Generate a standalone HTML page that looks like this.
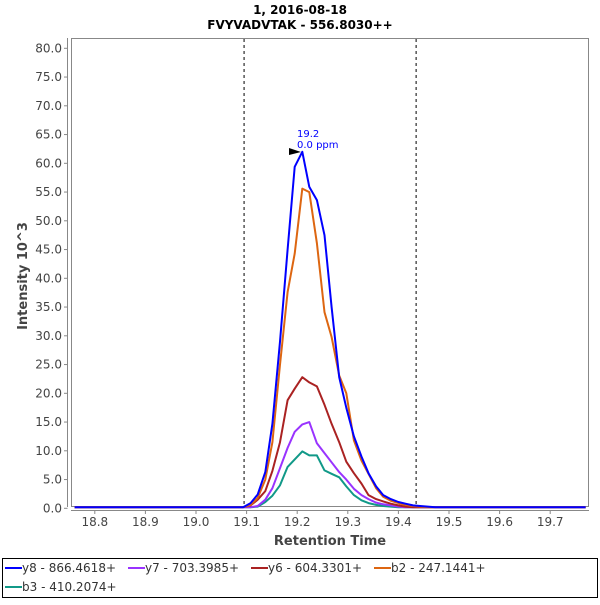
<!DOCTYPE html>
<html><head><meta charset="utf-8"><style>
body{margin:0;background:#fff;font-family:"Liberation Sans","DejaVu Sans",sans-serif}
svg text{font-family:"DejaVu Sans","Liberation Sans",sans-serif}
</style></head><body>
<svg id="chart" width="600" height="600" xmlns="http://www.w3.org/2000/svg">
<rect width="600" height="600" fill="#fff"/>
<text x="300" y="14" text-anchor="middle" font-size="12" font-weight="bold">1, 2016-08-18</text>
<text x="300" y="29" text-anchor="middle" font-size="12" font-weight="bold">FVYVADVTAK - 556.8030++</text>
<rect x="71.5" y="38.5" width="517" height="468" fill="#fff" stroke="#888"/>
<g id="yaxis"></g>
<g id="xaxis"></g>
<g id="series"></g>
<text transform="translate(27,276) rotate(-90)" text-anchor="middle" font-size="13" font-weight="bold" fill="#444">Intensity 10^3</text>
<text x="330" y="545" text-anchor="middle" font-size="13" font-weight="bold" fill="#444">Retention Time</text>
<polygon points="289,148 301,152 289,155" fill="#000"/>
<text x="297" y="137" font-size="10" fill="#0000ff">19.2</text>
<text x="297" y="148" font-size="10" fill="#0000ff">0.0 ppm</text>
<g>
<rect x="2.5" y="558.5" width="595" height="39" fill="#fff" stroke="#000"/>
<g><line x1="5" y1="568" x2="22" y2="568" stroke="#0000ff" stroke-width="2"/><text x="22" y="572" font-size="12" fill="#333">y8 - 866.4618+</text></g>
<g><line x1="128" y1="568" x2="145" y2="568" stroke="#9933ff" stroke-width="2"/><text x="145" y="572" font-size="12" fill="#333">y7 - 703.3985+</text></g>
<g><line x1="251" y1="568" x2="268" y2="568" stroke="#aa2222" stroke-width="2"/><text x="268" y="572" font-size="12" fill="#333">y6 - 604.3301+</text></g>
<g><line x1="374" y1="568" x2="391" y2="568" stroke="#dd6611" stroke-width="2"/><text x="391" y="572" font-size="12" fill="#333">b2 - 247.1441+</text></g>
<g><line x1="5" y1="587" x2="22" y2="587" stroke="#119988" stroke-width="2"/><text x="22" y="591" font-size="12" fill="#333">b3 - 410.2074+</text></g>
</g>
</svg>
<script>
const times=[18.76,19.093,19.108,19.122,19.137,19.151,19.166,19.181,19.195,19.210,19.224,19.239,19.254,19.268,19.283,19.297,19.312,19.327,19.341,19.356,19.370,19.385,19.400,19.414,19.429,19.443,19.458,19.473,19.77];
const y8=[0.2,0.2,0.9,2.4,6.3,14.7,29,45,59.4,62.0,55.9,53.6,47.5,35,22.8,17.5,12.5,9,6.1,3.8,2.3,1.6,1.1,0.8,0.5,0.4,0.3,0.2,0.2];
const b2=[0.2,0.2,0.6,1.8,5,11.5,25,37.6,44.3,55.6,55.0,46.1,34.1,29.8,23.1,20,11.8,8.3,6,3.5,2,1.3,0.9,0.6,0.4,0.3,0.2,0.2,0.2];
const y6=[0.2,0.2,0.5,1.5,3,6.5,11.5,18.8,20.8,22.8,21.9,21.2,18,14.7,11.5,8.1,6.1,4.3,2.3,1.6,1.2,0.8,0.5,0.3,0.2,0.2,0.2,0.2,0.2];
const y7=[0.2,0.2,0.2,0.4,1.5,3.5,7,10.5,13.3,14.6,15.0,11.3,9.6,8,6.3,5,3.4,2.3,1.6,1.0,0.7,0.5,0.3,0.2,0.2,0.2,0.2,0.2,0.2];
const b3=[0.2,0.2,0.2,0.3,1.1,2.2,4.0,7.2,8.5,9.9,9.2,9.2,6.6,6.0,5.4,3.8,2.3,1.4,0.9,0.6,0.4,0.3,0.2,0.2,0.2,0.2,0.2,0.2,0.2];
const yTicks=[0,5,10,15,20,25,30,35,40,45,50,55,60,65,70,75,80];
const xTicks=[18.8,18.9,19.0,19.1,19.2,19.3,19.4,19.5,19.6,19.7];
const windowLines=[19.095,19.435];
const NS="http://www.w3.org/2000/svg";
const xs=t=>196+(t-19.0)*506;
const ys=v=>508.3-v*5.75;
function mk(tag,attrs,parent){const e=document.createElementNS(NS,tag);for(const k in attrs)e.setAttribute(k,attrs[k]);parent.appendChild(e);return e;}
const ya=document.getElementById('yaxis'),xa=document.getElementById('xaxis'),sg=document.getElementById('series');
mk('line',{x1:67.5,y1:38,x2:67.5,y2:507,stroke:'#888'},ya);
yTicks.forEach(v=>{
 const l=mk('line',{x1:64,y1:ys(v),x2:67.5,y2:ys(v),stroke:'#888'},ya);
 
 
 const t=mk('text',{x:62,y:ys(v)+4,'text-anchor':'end','font-size':12,fill:'#444'},ya);
 t.textContent=v.toFixed(1);
 
 
});
mk('line',{x1:71,y1:510.5,x2:589,y2:510.5,stroke:'#888'},xa);
xTicks.forEach(v=>{
 const l=mk('line',{x1:xs(v),y1:510.5,x2:xs(v),y2:514,stroke:'#888'},xa);
 
 
 const t=mk('text',{x:xs(v),y:526,'text-anchor':'middle','font-size':12,fill:'#444'},xa);
 t.textContent=v.toFixed(1);
 
 
});
windowLines.forEach(v=>{
 const l=mk('line',{x1:xs(v),y1:39,x2:xs(v),y2:506,stroke:'#000','stroke-dasharray':'3,3'},sg);
 
 
});
const series=[['b3',b3,'#119988'],['y7',y7,'#9933ff'],['y6',y6,'#aa2222'],['b2',b2,'#dd6611'],['y8',y8,'#0000ff']];
series.forEach(([n,vals,c])=>{
 const pts=vals.map((v,i)=>Math.max(72,Math.min(588,xs(times[i]))).toFixed(1)+','+ys(v).toFixed(1)).join(' ');
 const p=mk('polyline',{points:pts,fill:'none',stroke:c,'stroke-width':2,'stroke-linejoin':'round'},sg);
 
 
});
</script>
</body></html>
